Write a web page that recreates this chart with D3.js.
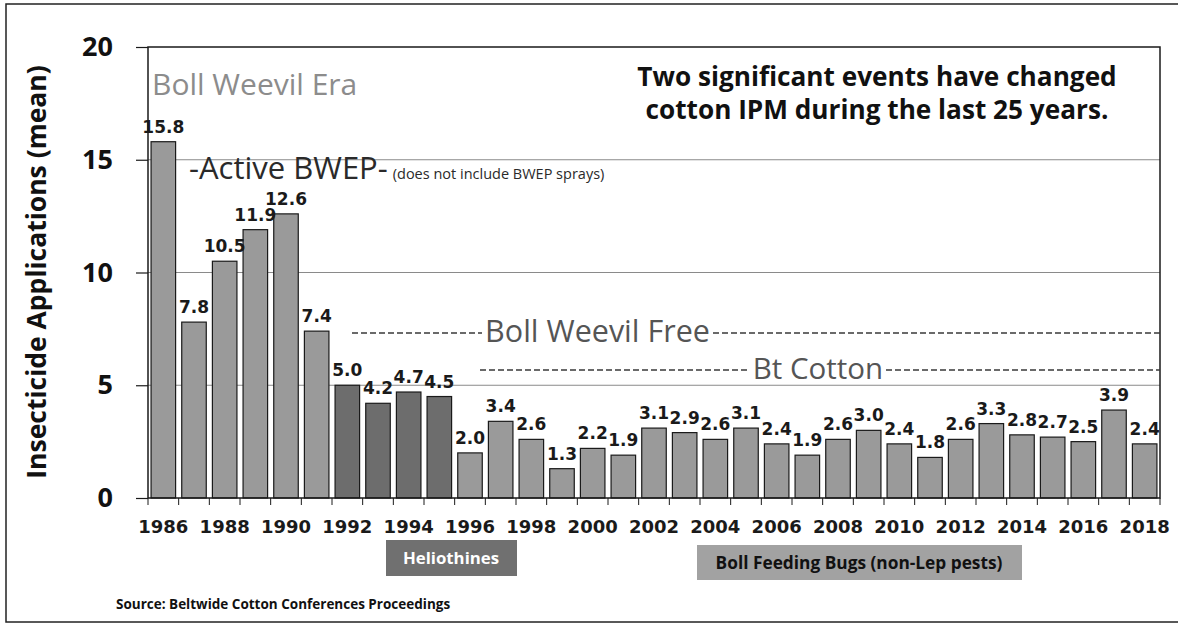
<!DOCTYPE html>
<html><head><meta charset="utf-8">
<script src="https://cdn.jsdelivr.net/npm/d3@7"></script>
<style>body{margin:0;background:#fff}svg{display:block}</style>
</head><body>
<svg id="c" width="1178" height="627"></svg>
<script>
const years = d3.range(1986, 2019);
const values = [15.8, 7.8, 10.5, 11.9, 12.6, 7.4, 5.0, 4.2, 4.7, 4.5, 2.0, 3.4, 2.6, 1.3, 2.2, 1.9, 3.1, 2.9, 2.6, 3.1, 2.4, 1.9, 2.6, 3.0, 2.4, 1.8, 2.6, 3.3, 2.8, 2.7, 2.5, 3.9, 2.4];
const darkYears = [1992, 1993, 1994, 1995];
const yTicks = [0, 5, 10, 15, 20];
const xLabelYears = years.filter(y => y % 2 === 0);

const svg = d3.select("#c");
const L = 148, R = 1160, T = 47, B = 498;
const x = d3.scaleBand().domain(years).range([L, R]).paddingInner(0.2).paddingOuter(0.1);
const y = d3.scaleLinear().domain([0, 20]).range([B, T]);
const sans = "'Open Sans', Lato, sans-serif";
const verd = "'DejaVu Sans', Verdana, sans-serif";

// outer frame
svg.append("rect").attr("x", 6).attr("y", 4).attr("width", 1190).attr("height", 618)
  .attr("fill", "none").attr("stroke", "#222").attr("stroke-width", 1.5);

// gridlines
svg.append("g").selectAll("line").data([5, 10, 15]).join("line")
  .attr("x1", L).attr("x2", R).attr("y1", d => y(d)).attr("y2", d => y(d))
  .attr("stroke", "#8a8a8a").attr("stroke-width", 1);

// bars
svg.append("g").selectAll("rect").data(years).join("rect")
  .attr("x", d => x(d)).attr("width", x.bandwidth())
  .attr("y", (d, i) => y(values[i])).attr("height", (d, i) => y(0) - y(values[i]))
  .attr("fill", d => darkYears.includes(d) ? "#6d6d6d" : "#9a9a9a")
  .attr("stroke", "#1a1a1a").attr("stroke-width", 1.2);

// value labels
svg.append("g").selectAll("text").data(years).join("text")
  .attr("x", d => x(d) + x.bandwidth() / 2).attr("y", (d, i) => y(values[i]) - 9)
  .attr("text-anchor", "middle").attr("font-family", verd).attr("font-weight", "bold")
  .attr("font-size", 17).attr("fill", "#1a1a1a")
  .text((d, i) => values[i].toFixed(1));

// plot border
svg.append("rect").attr("x", L).attr("y", T).attr("width", R - L).attr("height", B - T)
  .attr("fill", "none").attr("stroke", "#1a1a1a").attr("stroke-width", 1.5);

// y axis
const yAxis = d3.axisLeft(y).tickValues(yTicks).tickSize(12).tickFormat(d3.format("d"));
const gy = svg.append("g").attr("transform", `translate(${L},0)`).call(yAxis);
gy.select(".domain").remove();
gy.selectAll(".tick line").attr("stroke", "#1a1a1a").attr("stroke-width", 1.2);
gy.selectAll(".tick text").attr("x", -35).attr("font-family", sans)
  .attr("font-weight", "bold").attr("font-size", 27).attr("fill", "#111");

// x axis
const edges = years.map(d => x(d) - x.step() * x.paddingInner() / 2);
edges.push(R);
svg.append("g").selectAll("line").data(edges).join("line")
  .attr("x1", d => d).attr("x2", d => d).attr("y1", B).attr("y2", B + 7)
  .attr("stroke", "#1a1a1a").attr("stroke-width", 1);
svg.append("g").selectAll("text").data(xLabelYears).join("text")
  .attr("x", d => x(d) + x.bandwidth() / 2).attr("y", 533)
  .attr("text-anchor", "middle").attr("font-family", verd).attr("font-weight", "bold")
  .attr("font-size", 18).attr("fill", "#1a1a1a").text(d => d);

// y label
svg.append("text").attr("transform", "translate(46,272) rotate(-90)")
  .attr("text-anchor", "middle").attr("font-family", sans)
  .attr("font-weight", "bold").attr("font-size", 26.5).attr("fill", "#111")
  .text("Insecticide Applications (mean)");

// title
const title = svg.append("text").attr("text-anchor", "middle").attr("font-family", sans)
  .attr("font-weight", "bold").attr("font-size", 26.2).attr("fill", "#111");
title.append("tspan").attr("x", 877).attr("y", 86).text("Two significant events have changed");
title.append("tspan").attr("x", 877).attr("y", 119).text("cotton IPM during the last 25 years.");

// annotations
svg.append("text").attr("x", 152).attr("y", 95).attr("font-family", sans)
  .attr("font-size", 30).attr("fill", "#8c8c8c").text("Boll Weevil Era");
const ab = svg.append("text").attr("x", 189).attr("y", 179).attr("font-family", sans).attr("fill", "#2a2a2a");
ab.append("tspan").attr("font-size", 31).text("-Active BWEP-");
ab.append("tspan").attr("font-size", 14.5).attr("dx", 5).text("(does not include BWEP sprays)");

function dashedLabel(yy, x0, tx0, tx1, label, size) {
  const g = svg.append("g");
  [[x0, tx0 - 3], [tx1 + 3, R]].forEach(([a, b]) => {
    g.append("line").attr("x1", a).attr("x2", b).attr("y1", yy).attr("y2", yy)
      .attr("stroke", "#3a3a3a").attr("stroke-width", 1.6).attr("stroke-dasharray", "6,3");
  });
  g.append("text").attr("x", (tx0 + tx1) / 2).attr("y", yy + 9).attr("text-anchor", "middle")
    .attr("font-family", sans).attr("font-size", size).attr("fill", "#555").text(label);
}
dashedLabel(333, 352, 485, 710, "Boll Weevil Free", 30.5);
dashedLabel(370, 480, 753, 883, "Bt Cotton", 29.5);

// boxes below axis
svg.append("rect").attr("x", 386).attr("y", 540).attr("width", 131).attr("height", 36).attr("fill", "#707070");
svg.append("text").attr("x", 451).attr("y", 564).attr("text-anchor", "middle").attr("font-family", sans)
  .attr("font-weight", "bold").attr("font-size", 16.8).attr("fill", "#fff").text("Heliothines");
svg.append("rect").attr("x", 697).attr("y", 545).attr("width", 325).attr("height", 35).attr("fill", "#a2a2a2");
svg.append("text").attr("x", 859).attr("y", 569).attr("text-anchor", "middle").attr("font-family", sans)
  .attr("font-weight", "bold").attr("font-size", 17.3).attr("fill", "#111").text("Boll Feeding Bugs (non-Lep pests)");

// source
svg.append("text").attr("x", 116).attr("y", 609).attr("font-family", sans)
  .attr("font-weight", "bold").attr("font-size", 13.5).attr("fill", "#111")
  .text("Source:  Beltwide Cotton Conferences Proceedings");
</script>
</body></html>
